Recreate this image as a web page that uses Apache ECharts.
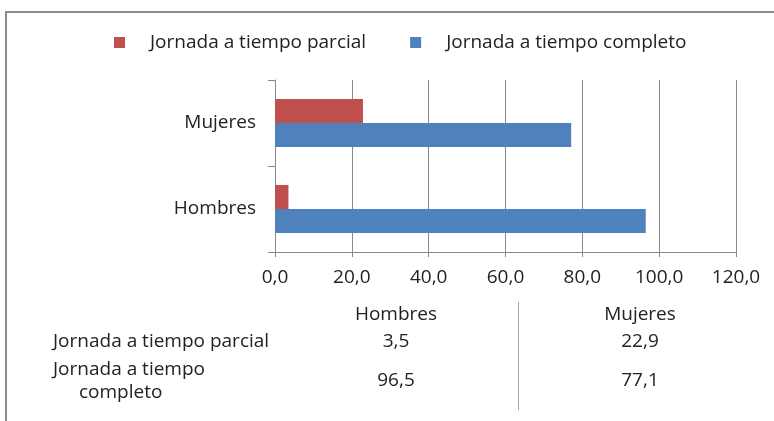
<!DOCTYPE html>
<html>
<head>
<meta charset="utf-8">
<script src="https://cdn.jsdelivr.net/npm/echarts@6/dist/echarts.min.js"></script>
<style>
html,body{margin:0;padding:0;background:#fff;}
#chart{width:774px;height:421px;}
</style>
</head>
<body>
<div id="chart"></div>
<script>
const categories = ['Hombres', 'Mujeres'];
const seriesNames = ['Jornada a tiempo parcial', 'Jornada a tiempo completo'];
const parcialValues = [3.5, 22.9];
const completoValues = [96.5, 77.1];
const xTicks = [0, 20, 40, 60, 80, 100, 120];

const FONT = '"Open Sans", sans-serif';
const TXT = '#222';
const fmt = v => v.toFixed(1).replace('.', ',');

const chart = echarts.init(document.getElementById('chart'));

// data table built from the arrays
const colX = [396, 640];
const tableGraphics = [];
const txt = (text, x, y, align) => ({type:'text', style:{text:text, x:x, y:y, align:align, verticalAlign:'middle', font:'19px ' + FONT, fill:TXT}});
categories.forEach((c, i) => {
  tableGraphics.push(txt(c, colX[i], 315, 'center'));
  tableGraphics.push(txt(fmt(parcialValues[i]), colX[i], 342, 'center'));
  tableGraphics.push(txt(fmt(completoValues[i]), colX[i], 381, 'center'));
});
const n2 = seriesNames[1];
const cut = n2.lastIndexOf(' ');
tableGraphics.push(txt(seriesNames[0], 53, 342, 'left'));
tableGraphics.push(txt(n2.slice(0, cut), 53, 370, 'left'));
tableGraphics.push(txt(n2.slice(cut + 1), 79, 393, 'left'));
tableGraphics.push({type:'line', shape:{x1:518.5, y1:302, x2:518.5, y2:410}, style:{stroke:'#a6a6a6', lineWidth:1}});
// outer frame
tableGraphics.push({type:'rect', shape:{x:6, y:12, width:900, height:600}, style:{fill:'none', stroke:'#8a8a8a', lineWidth:2}});

chart.setOption({
  animation: false,
  legend: {
    left: 114,
    top: 33,
    padding: 0,
    icon: 'rect',
    itemWidth: 11,
    itemHeight: 11,
    itemGap: 44,
    data: seriesNames,
    textStyle: {fontFamily: FONT, fontSize: 19, color: TXT, padding: [0, 0, 0, 20]}
  },
  grid: {left: 275, right: 38, top: 80, bottom: 169, containLabel: false},
  xAxis: {
    type: 'value',
    min: xTicks[0],
    max: xTicks[xTicks.length - 1],
    interval: xTicks[1] - xTicks[0],
    axisLine: {show: true, lineStyle: {color: '#878787', width: 1}},
    axisTick: {show: true, length: 5, lineStyle: {color: '#878787'}},
    splitLine: {show: true, lineStyle: {color: '#878787', width: 1}},
    axisLabel: {formatter: v => fmt(v), fontFamily: FONT, fontSize: 19, color: TXT, margin: 16}
  },
  yAxis: {
    type: 'category',
    data: categories,
    axisLine: {show: true, lineStyle: {color: '#878787', width: 1}},
    axisTick: {show: true, length: 7, lineStyle: {color: '#878787'}},
    axisLabel: {fontFamily: FONT, fontSize: 19, color: TXT, margin: 19}
  },
  series: [
    {name: seriesNames[0], type: 'bar', data: parcialValues, barWidth: 24, barGap: '0%', itemStyle: {color: '#C0504D'}},
    {name: seriesNames[1], type: 'bar', data: completoValues, barWidth: 24, barGap: '0%', itemStyle: {color: '#4F81BD'}}
  ],
  graphic: tableGraphics
});
</script>
</body>
</html>
